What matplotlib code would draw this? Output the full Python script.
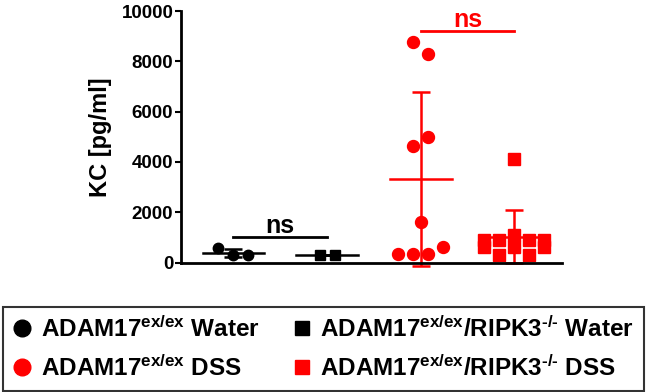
import numpy as np
import matplotlib
matplotlib.use("Agg")
import matplotlib.pyplot as plt
from matplotlib.lines import Line2D

plt.rcParams['font.family'] = ['Liberation Sans', 'DejaVu Sans']
plt.rcParams['font.weight'] = 'bold'
plt.rcParams['mathtext.fontset'] = 'custom'
plt.rcParams['mathtext.rm'] = 'Liberation Sans:bold'
plt.rcParams['mathtext.bf'] = 'Liberation Sans:bold'
plt.rcParams['mathtext.it'] = 'Liberation Sans:bold'
plt.rcParams['mathtext.default'] = 'rm'

# ---- data (KC, pg/ml) ----
labels = [
    r'ADAM17$^{\text{ex/ex}}$ Water',
    r'ADAM17$^{\text{ex/ex}}$/RIPK3$^{\text{-/-}}$ Water',
    r'ADAM17$^{\text{ex/ex}}$ DSS',
    r'ADAM17$^{\text{ex/ex}}$/RIPK3$^{\text{-/-}}$ DSS',
]
ctrl_water = [560, 300, 300]
ripk3_water = [300, 290]
ctrl_dss = [8750, 8300, 4650, 5000, 1600, 320, 320, 320, 600]
ripk3_dss = [4120, 900, 900, 1080, 900, 900, 620, 300, 620, 300, 620]
ns_pairs = [(1, 2, 1000), (3, 4, 9200)]

RED = '#FF0000'
series = [ctrl_water, ripk3_water, ctrl_dss, ripk3_dss]
colors = ['black', 'black', RED, RED]
markers = ['o', 's', 'o', 's']
msizes = [7.5, 7.5, 8.6, 8.4]


def row_offsets(values, height, step):
    # GraphPad-like scatter: values close in y share a row, centred on the column
    vals = np.asarray(values, float)
    rows = []
    for i in np.argsort(vals, kind='stable'):
        if rows and vals[i] - vals[rows[-1][0]] < height:
            rows[-1].append(i)
        else:
            rows.append([i])
    off = np.zeros(len(vals))
    for r in rows:
        r = sorted(r)
        for k, i in enumerate(r):
            off[i] = (k - (len(r) - 1) / 2) * step
    return off


fig = plt.figure(figsize=(6.5, 3.92), dpi=100)
ax = fig.add_axes([181 / 650, 129.5 / 392, 381 / 650, 251.5 / 392])

for pos, vals, c, m, ms in zip(range(1, 5), series, colors, markers, msizes):
    vals = np.asarray(vals, float)
    xs = pos + row_offsets(vals, 476, 0.16)
    ax.plot(xs, vals, ls='none', marker=m, ms=ms, color=c, mec=c, zorder=3,
            clip_on=False)
    mean = vals.mean()
    sd = vals.std(ddof=1)
    ax.plot([pos - 0.33, pos + 0.33], [mean, mean], color=c, lw=1.8, zorder=4)
    ax.errorbar(pos, mean, yerr=sd, color=c, lw=1.8, capsize=6.5, capthick=1.8,
                zorder=2, clip_on=False)

for x0, x1, y in ns_pairs:
    c = colors[x0 - 1]
    ax.plot([x0, x1], [y, y], color=c, lw=2, clip_on=False)
    ax.annotate('ns', xy=((x0 + x1) / 2, y), xytext=(0, 3),
                textcoords='offset points', ha='center', va='baseline',
                fontsize=18, fontweight='bold', color=c, annotation_clip=False)

ax.set_xlim(0.44, 4.51)
ax.set_ylim(0, 10000)
ax.set_yticks(np.arange(0, 10001, 2000))
ax.set_xticks([])
ax.tick_params(axis='y', length=4.5, width=1.5, labelsize=13.5, pad=1)
for lab in ax.get_yticklabels():
    lab.set_fontweight('bold')
ax.set_ylabel('KC [pg/ml]', fontsize=17, fontweight='bold', labelpad=7)
for s in ['top', 'right']:
    ax.spines[s].set_visible(False)
for s in ['left', 'bottom']:
    ax.spines[s].set_linewidth(2)
    ax.spines[s].set_zorder(5)

handles = [
    Line2D([], [], ls='none', marker='o', ms=12, color='black'),
    Line2D([], [], ls='none', marker='o', ms=12, color=RED),
    Line2D([], [], ls='none', marker='s', ms=10, color='black'),
    Line2D([], [], ls='none', marker='s', ms=10, color=RED),
]
leg_labels = [labels[0], labels[2], labels[1], labels[3]]
leg = fig.legend(handles, leg_labels, ncol=2, loc='upper left',
                 bbox_to_anchor=(3 / 650, 1 - 306.5 / 392),
                 borderaxespad=0, frameon=True, fancybox=False,
                 edgecolor='black', prop={'size': 17.5, 'weight': 'bold'},
                 handlelength=0.8, handletextpad=0.35, columnspacing=1.35,
                 labelspacing=0.55, borderpad=0.4)
leg.get_frame().set_linewidth(1.5)

fig.savefig('out.png', dpi=100)
